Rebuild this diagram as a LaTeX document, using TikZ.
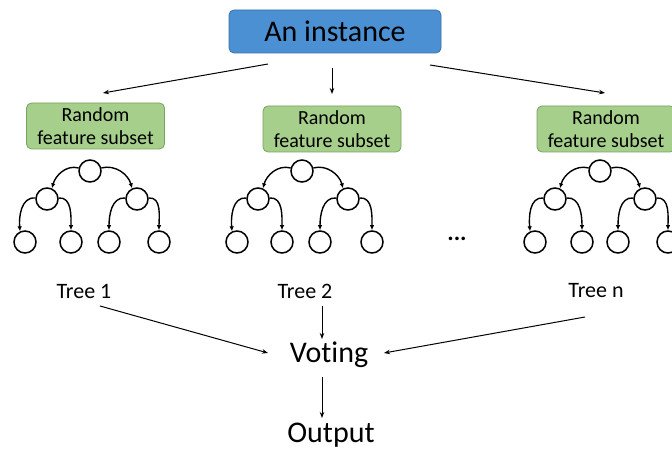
\documentclass[tikz,border=0pt]{standalone}
\usepackage{fontspec}
\setmainfont{Carlito}[Ligatures=NoCommon]
\usetikzlibrary{arrows.meta}
\definecolor{bluefill}{RGB}{74,144,210}
\definecolor{blueedge}{RGB}{58,112,172}
\definecolor{greenfill}{RGB}{166,207,140}
\definecolor{greenedge}{RGB}{118,164,94}
\begin{document}
\begin{tikzpicture}[x=1pt,y=1pt,
  circ/.style={circle,draw,line width=1.5pt,minimum size=22pt,inner sep=0pt},
  tarrow/.style={line width=1.4pt,-{Latex[length=5pt,width=4.5pt]}},
  arr/.style={line width=1pt,-{Stealth[length=6pt,width=4.5pt]}},
  subsetbox/.style={draw=greenedge,fill=greenfill,line width=0.8pt,rounded corners=5pt,
    minimum width=138pt,minimum height=46pt,inner sep=0pt,align=center,
    font=\fontsize{20}{23}\selectfont},
  lbl/.style={font=\fontsize{22}{26}\selectfont,inner sep=0pt},
  big/.style={font=\fontsize{30}{34}\selectfont,inner sep=0pt}]
\useasboundingbox (0,0) rectangle (672,450);

\node[draw=blueedge,fill=bluefill,line width=0.8pt,rounded corners=5pt,
  minimum width=212pt,minimum height=43pt,inner sep=0pt,
  font=\fontsize{30}{34}\selectfont] (inst) at (335,418.5) {An instance};

\node[subsetbox] (s1) at (95.5,324) {Random\\feature subset};
\node[subsetbox] (s2) at (332,321) {Random\\feature subset};
\node[subsetbox] (s3) at (606,321) {Random\\feature subset};

\coordinate (c1a) at (268,386); \coordinate (c1b) at (103,357);
\coordinate (c2a) at (332,382); \coordinate (c2b) at (332,356);
\coordinate (c3a) at (430,385); \coordinate (c3b) at (605,357);
\draw[arr] (c1a) -- (c1b);
\draw[arr] (c2a) -- (c2b);
\draw[arr] (c3a) -- (c3b);

\foreach \i/\r/\a/\b/\p/\q/\s/\t in {1/90/47/137/25/71/109/159,
    2/302/258/348/237/282/320/372, 3/600/555/645/535/582/618/668}{
  \node[circ] (r\i) at (\r,279) {};
  \node[circ] (a\i) at (\a,251) {};
  \node[circ] (b\i) at (\b,251) {};
  \node[circ] (p\i) at (\p,208) {};
  \node[circ] (q\i) at (\q,208) {};
  \node[circ] (u\i) at (\s,208) {};
  \node[circ] (v\i) at (\t,208) {};
  \draw[tarrow] (r\i.165) to[out=165,in=75] (a\i.65);
  \draw[tarrow] (r\i.15) to[out=15,in=105] (b\i.115);
  \draw[tarrow] (a\i.175) to[out=175,in=95] (p\i.115);
  \draw[tarrow] (a\i.5) to[out=5,in=90] (q\i.90);
  \draw[tarrow] (b\i.175) to[out=175,in=90] (u\i.90);
  \draw[tarrow] (b\i.5) to[out=5,in=90] (v\i.90);
}

\node[font=\fontsize{24}{26}\selectfont\bfseries,inner sep=0pt] (dots) at (457,211) {...};

\node[lbl] (t1) at (84,159) {Tree 1};
\node[lbl] (t2) at (305,159) {Tree 2};
\node[lbl] (t3) at (596,159) {Tree n};

\node[big] (vote) at (329,95) {Vot\kern0pt ing};
\node[big] (out) at (331,15) {Output};

\coordinate (d1a) at (100,144); \coordinate (d1b) at (268,97);
\coordinate (d2a) at (322,144); \coordinate (d2b) at (322,111);
\coordinate (d3a) at (585,133); \coordinate (d3b) at (384,97);
\coordinate (d4a) at (322,73);  \coordinate (d4b) at (322,32);
\draw[arr] (d1a) -- (d1b);
\draw[arr] (d2a) -- (d2b);
\draw[arr] (d3a) -- (d3b);
\draw[arr] (d4a) -- (d4b);
\end{tikzpicture}
\end{document}
